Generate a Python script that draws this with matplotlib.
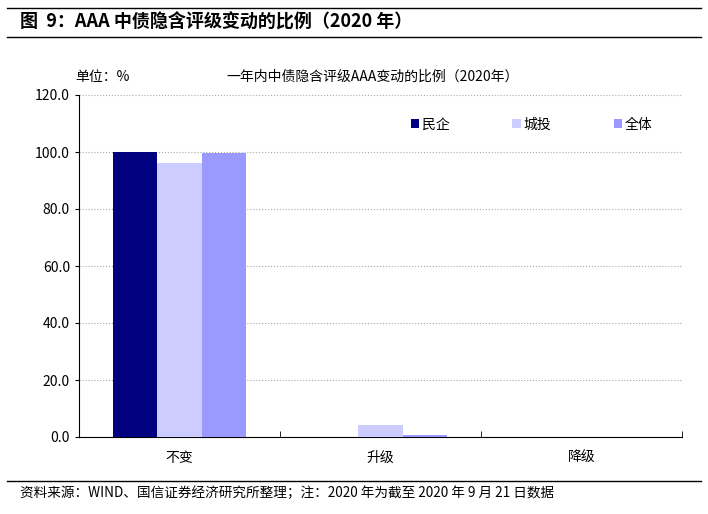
import matplotlib
import matplotlib.pyplot as plt
import numpy as np

matplotlib.use('agg')
plt.rcParams['font.family'] = ['Noto Sans CJK SC', 'DejaVu Sans']

categories = ['不变', '升级', '降级']
series_names = ['民企', '城投', '全体']
minqi = [100.0, 0.0, 0.0]
chengtou = [96.0, 4.2, 0.0]
quanti = [99.5, 0.7, 0.0]
colors = ['#000080', '#CCCCFF', '#9999FF']

fig = plt.figure(figsize=(7.08, 5.14), dpi=100, facecolor='white')
ax = fig.add_axes([79 / 708, 1 - 437 / 514, 603 / 708, 342 / 514])

x = np.arange(len(categories))
w = 0.22
for i, (vals, name) in enumerate(zip([minqi, chengtou, quanti], series_names)):
    ax.bar(x + (i - 1) * w, vals, width=w, color=colors[i], label=name, zorder=3)

ax.set_xlim(-0.5, 2.5)
ax.set_ylim(0, 120)
ax.set_yticks(np.arange(0, 121, 20))
ax.set_yticklabels(['%.1f' % v for v in np.arange(0, 121, 20)], fontsize=10)
ax.set_xticks(x)
ax.set_xticklabels(categories, fontsize=10)
ax.set_xticks([-0.5, 0.5, 1.5, 2.5], minor=True)
ax.tick_params(axis='x', which='major', length=0, pad=10)
ax.tick_params(axis='x', which='minor', direction='in', length=4)
ax.tick_params(axis='y', direction='out', length=3)
ax.grid(axis='y', color='#aaaaaa', linestyle=':', linewidth=0.8, zorder=0)
for s in ['top', 'right']:
    ax.spines[s].set_visible(False)

ax.legend(loc='upper left', bbox_to_anchor=(0.53, 0.97), ncol=3, frameon=False,
          fontsize=10, handlelength=0.6, handleheight=0.6, handletextpad=0.2,
          columnspacing=4.5)

fig.text(75 / 708, 1 - 77 / 514, '单位：%', fontsize=10, va='center')
fig.text(373 / 708, 1 - 77 / 514, '一年内中债隐含评级AAA变动的比例（2020年）', fontsize=10,
         va='center', ha='center')

fig.add_artist(plt.Line2D([0.01, 0.99], [1 - 8 / 514, 1 - 8 / 514], color='black', lw=1))
fig.add_artist(plt.Line2D([0.01, 0.99], [1 - 37 / 514, 1 - 37 / 514], color='black', lw=1))
fig.add_artist(plt.Line2D([0.01, 0.99], [1 - 481 / 514, 1 - 481 / 514], color='black', lw=1))
fig.text(20 / 708, 1 - 22 / 514, '图  9：AAA 中债隐含评级变动的比例（2020 年）', fontsize=13,
         fontweight='bold', va='center')
fig.text(20 / 708, 1 - 493 / 514, '资料来源：WIND、国信证券经济研究所整理；注：2020 年为截至 2020 年 9 月 21 日数据',
         fontsize=9.8, va='center')

plt.savefig('out.png', dpi=100)
